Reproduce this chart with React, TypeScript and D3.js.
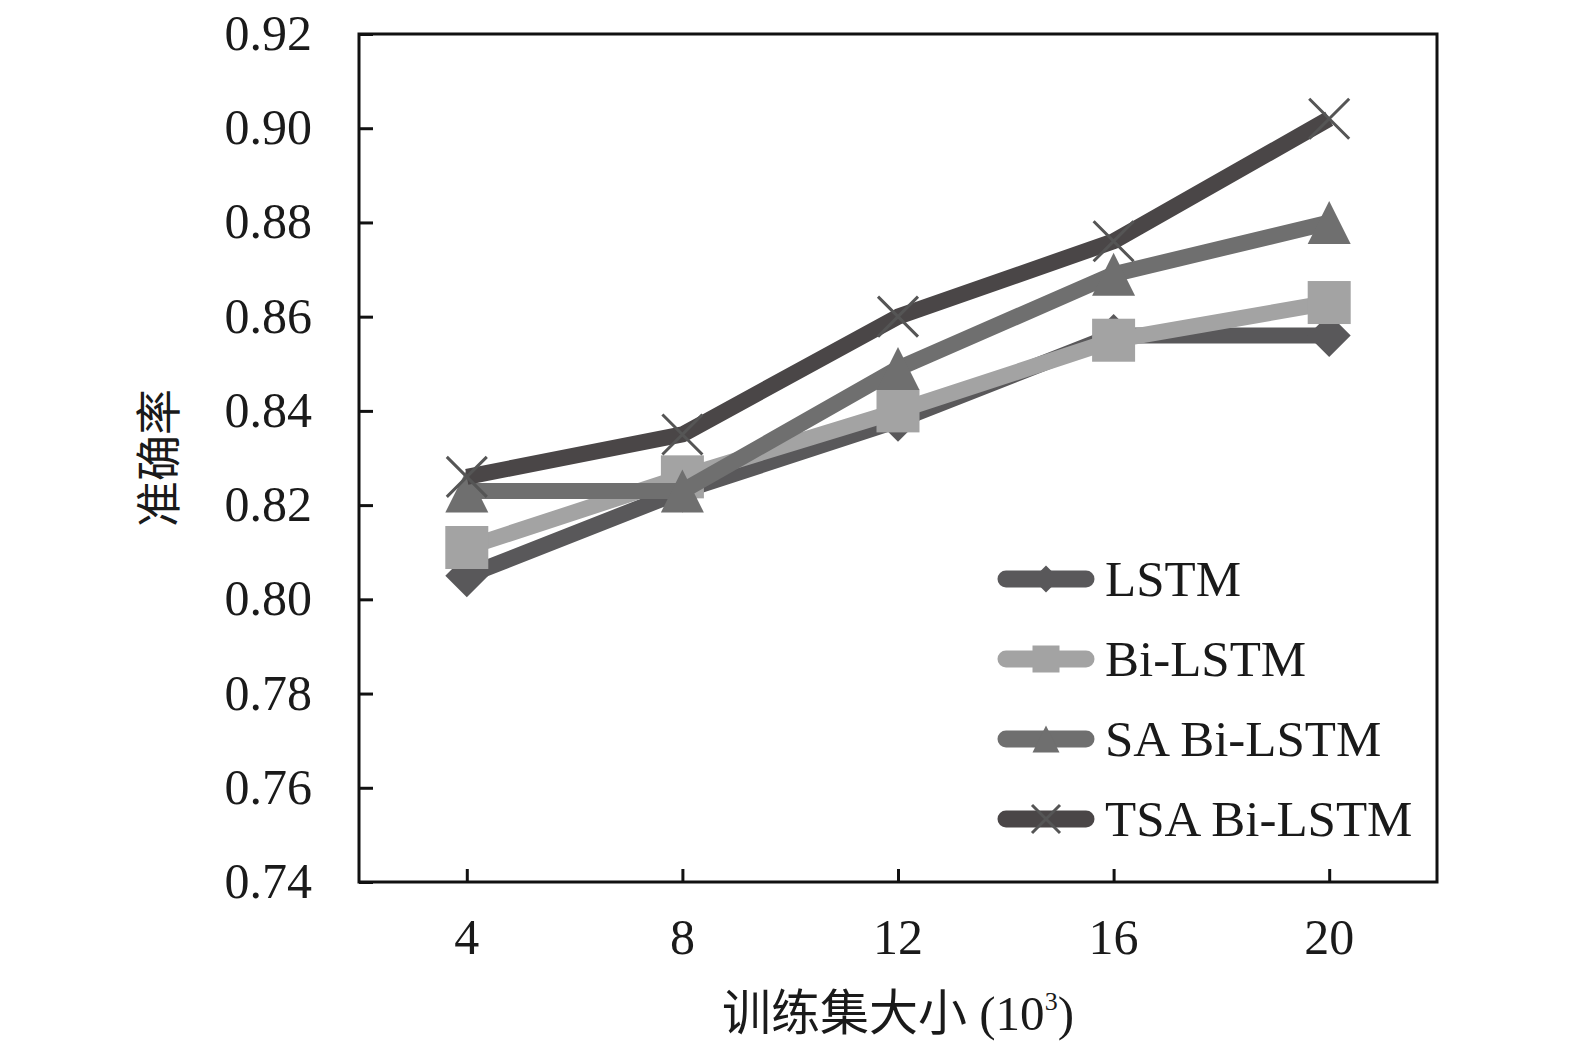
import React from 'react';
import * as d3 from 'd3';
import { useRef, useEffect } from 'react';

const sizes = [4, 8, 12, 16, 20];
const lstm = [0.805, 0.823, 0.838, 0.856, 0.856];
const biLstm = [0.811, 0.826, 0.840, 0.855, 0.863];
const saBiLstm = [0.823, 0.823, 0.849, 0.869, 0.880];
const tsaBiLstm = [0.826, 0.835, 0.860, 0.876, 0.902];
const yTicks = [0.74, 0.76, 0.78, 0.8, 0.82, 0.84, 0.86, 0.88, 0.9, 0.92];

interface Series {
  name: string;
  values: number[];
  color: string;
  marker: 'diamond' | 'square' | 'triangle' | 'cross';
}

const series: Series[] = [
  { name: 'LSTM', values: lstm, color: '#59585a', marker: 'diamond' },
  { name: 'Bi-LSTM', values: biLstm, color: '#a3a3a3', marker: 'square' },
  { name: 'SA Bi-LSTM', values: saBiLstm, color: '#6f6f6f', marker: 'triangle' },
  { name: 'TSA Bi-LSTM', values: tsaBiLstm, color: '#4a4647', marker: 'cross' },
];

const W = 1575;
const H = 1059;
const serif = '"Liberation Serif", "Times New Roman", "Noto Sans CJK SC", serif';

function drawMarker(g: any, kind: Series['marker'], x: number, y: number, color: string, s: number) {
  if (kind === 'square') {
    g.append('rect')
      .attr('x', x - s / 2).attr('y', y - s / 2)
      .attr('width', s).attr('height', s)
      .attr('fill', color);
  } else if (kind === 'diamond') {
    g.append('path')
      .attr('d', `M${x},${y - s / 2}L${x + s / 2},${y}L${x},${y + s / 2}L${x - s / 2},${y}Z`)
      .attr('fill', color);
  } else if (kind === 'triangle') {
    g.append('path')
      .attr('d', `M${x},${y - s / 2}L${x + s / 2},${y + s / 2}L${x - s / 2},${y + s / 2}Z`)
      .attr('fill', color);
  } else {
    const h = s / 2;
    g.append('path')
      .attr('d', `M${x - h},${y - h}L${x + h},${y + h}M${x + h},${y - h}L${x - h},${y + h}`)
      .attr('stroke', '#555')
      .attr('stroke-width', 3)
      .attr('fill', 'none');
  }
}

function Chart() {
  const root = useRef<HTMLDivElement>(null);

  useEffect(() => {
    const left = 359;
    const right = 1437;
    const top = 34;
    const bottom = 882;

    const x = d3.scaleLinear().domain([2, 22]).range([left, right]);
    const y = d3.scaleLinear().domain([0.74, 0.92]).range([bottom, top]);

    const svg = d3
      .create('svg')
      .attr('viewBox', `0 0 ${W} ${H}`)
      .attr('width', W)
      .attr('height', H)
      .style('position', 'absolute')
      .style('left', '0px')
      .style('top', '0px')
      .style('background', '#fff');

    // ticks (inward) and labels
    const axisY = svg.append('g').attr('transform', `translate(${left},0)`)
      .call(d3.axisRight(y).tickValues(yTicks).tickSize(14).tickFormat(() => ''));
    axisY.select('.domain').remove();
    axisY.selectAll('line').attr('stroke', '#111').attr('stroke-width', 3);

    const axisX = svg.append('g').attr('transform', `translate(0,${bottom})`)
      .call(d3.axisTop(x).tickValues(sizes).tickSize(13).tickFormat(() => ''));
    axisX.select('.domain').remove();
    axisX.selectAll('line').attr('stroke', '#111').attr('stroke-width', 3);

    svg.append('g')
      .selectAll('text')
      .data(yTicks)
      .join('text')
      .attr('x', 312)
      .attr('y', d => y(d) + 16)
      .attr('text-anchor', 'end')
      .attr('font-family', serif)
      .attr('font-size', 50)
      .attr('fill', '#1a1a1a')
      .text(d => d.toFixed(2));

    svg.append('g')
      .selectAll('text')
      .data(sizes)
      .join('text')
      .attr('x', d => x(d))
      .attr('y', 954)
      .attr('text-anchor', 'middle')
      .attr('font-family', serif)
      .attr('font-size', 50)
      .attr('fill', '#1a1a1a')
      .text(d => String(d));

    // axis titles
    svg.append('text')
      .attr('transform', `translate(175,${(top + bottom) / 2}) rotate(-90)`)
      .attr('text-anchor', 'middle')
      .attr('font-family', serif)
      .attr('font-size', 46)
      .attr('fill', '#1a1a1a')
      .text('准确率');

    const xt = svg.append('text')
      .attr('x', (left + right) / 2)
      .attr('y', 1030)
      .attr('text-anchor', 'middle')
      .attr('font-family', serif)
      .attr('font-size', 49)
      .attr('fill', '#1a1a1a');
    xt.append('tspan').text('训练集大小 (10');
    xt.append('tspan').attr('font-size', 26).attr('dy', -20).text('3');
    xt.append('tspan').attr('dy', 20).text(')');

    // series
    const line = d3.line<number>()
      .x((_, i) => x(sizes[i]))
      .y(d => y(d));

    series.forEach(s => {
      const g = svg.append('g');
      g.append('path')
        .datum(s.values)
        .attr('fill', 'none')
        .attr('stroke', s.color)
        .attr('stroke-width', 16)
        .attr('stroke-linejoin', 'round')
        .attr('d', line);
      s.values.forEach((v, i) => drawMarker(g, s.marker, x(sizes[i]), y(v), s.color, s.marker === 'cross' ? 40 : 43));
    });

    // legend
    const legend = svg.append('g');
    series.forEach((s, i) => {
      const ly = 579 + i * 80;
      legend.append('line')
        .attr('x1', 1006).attr('x2', 1086)
        .attr('y1', ly).attr('y2', ly)
        .attr('stroke', s.color)
        .attr('stroke-width', 17)
        .attr('stroke-linecap', 'round');
      drawMarker(legend, s.marker, 1046, ly, s.color, s.marker === 'cross' ? 28 : 27);
      legend.append('text')
        .attr('x', 1105)
        .attr('y', ly + 17)
        .attr('font-family', serif)
        .attr('font-size', 51)
        .attr('fill', '#1a1a1a')
        .text(s.name);
    });

    // frame
    svg.append('rect')
      .attr('x', left).attr('y', top)
      .attr('width', right - left).attr('height', bottom - top)
      .attr('fill', 'none')
      .attr('stroke', '#111')
      .attr('stroke-width', 3);

    const rootNode = root.current;
    rootNode?.appendChild(svg.node() as Node);

    return () => {
      if (rootNode && rootNode.firstChild) {
        rootNode.removeChild(rootNode.firstChild);
      }
    };
  }, []);

  return <div ref={root} />;
}

export default function App() {
  return <Chart />;
}
